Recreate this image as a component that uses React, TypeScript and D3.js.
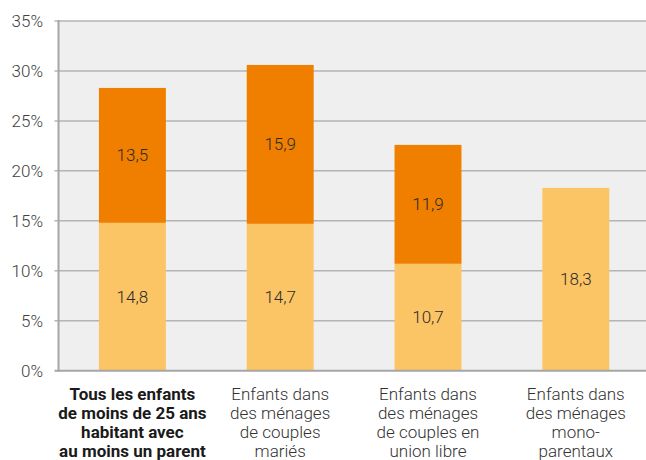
import React, { useEffect, useRef } from "react";
import * as d3 from "d3";

const categories = [
  ["Tous les enfants", "de moins de 25 ans", "habitant avec", "au moins un parent"],
  ["Enfants dans", "des ménages", "de couples", "mariés"],
  ["Enfants dans", "des ménages", "de couples en", "union libre"],
  ["Enfants dans", "des ménages", "mono-", "parentaux"],
];
const lowerValues = [14.8, 14.7, 10.7, 18.3];
const upperValues = [13.5, 15.9, 11.9, 0];
const yTicks = [0, 5, 10, 15, 20, 25, 30, 35];

const W = 646;
const H = 460;
const LIGHT = "#fbc565";
const ORANGE = "#f07f00";

const App = () => {
  const svgRef = useRef<SVGSVGElement>(null);

  useEffect(() => {
    document.body.style.margin = "0";
    const svg = d3.select(svgRef.current);
    svg.selectAll("*").remove();

    const left = 58.5;
    const top = 21;
    const bottom = 370.7;

    const x = d3
      .scaleBand()
      .domain(categories.map((_, i) => String(i)))
      .range([left, left + 591.2])
      .paddingInner(0.547)
      .paddingOuter(0.2735);
    const y = d3.scaleLinear().domain([0, 35]).range([bottom, top]);

    // plot background
    svg
      .append("rect")
      .attr("x", left)
      .attr("y", top)
      .attr("width", W - left)
      .attr("height", bottom - top)
      .attr("fill", "#efefef");

    // gridlines
    svg
      .append("g")
      .selectAll("line")
      .data(yTicks.filter((t) => t > 0))
      .join("line")
      .attr("x1", left - 4)
      .attr("x2", W)
      .attr("y1", (d) => y(d))
      .attr("y2", (d) => y(d))
      .attr("stroke", "#b4b4b4")
      .attr("stroke-width", 1.5);

    // y labels
    svg
      .append("g")
      .selectAll("text")
      .data(yTicks)
      .join("text")
      .attr("x", 43)
      .attr("y", (d) => y(d))
      .attr("dy", "0.35em")
      .attr("text-anchor", "end")
      .attr("font-family", "Roboto")
      .attr("font-weight", 300)
      .attr("font-size", 17)
      .attr("fill", "#404040")
      .text((d) => `${d}%`);

    const bars = svg.append("g");
    const fmt = (v: number) => v.toFixed(1).replace(".", ",");

    categories.forEach((_, i) => {
      const bx = x(String(i))!;
      const bw = x.bandwidth();
      const lo = lowerValues[i];
      const up = upperValues[i];
      bars
        .append("rect")
        .attr("x", bx)
        .attr("width", bw)
        .attr("y", y(lo))
        .attr("height", y(0) - y(lo))
        .attr("fill", LIGHT);
      bars
        .append("text")
        .attr("x", bx + bw / 2)
        .attr("y", y(lo / 2))
        .attr("dy", "0.35em")
        .attr("text-anchor", "middle")
        .attr("font-family", "Roboto")
        .attr("font-weight", 300)
        .attr("font-size", 17)
        .attr("fill", "#2b2b2b")
        .text(fmt(lo));
      if (up > 0) {
        bars
          .append("rect")
          .attr("x", bx)
          .attr("width", bw)
          .attr("y", y(lo + up))
          .attr("height", y(lo) - y(lo + up))
          .attr("fill", ORANGE);
        bars
          .append("text")
          .attr("x", bx + bw / 2)
          .attr("y", y(lo + up / 2))
          .attr("dy", "0.35em")
          .attr("text-anchor", "middle")
          .attr("font-family", "Roboto")
          .attr("font-weight", 300)
          .attr("font-size", 17)
          .attr("fill", "#2b2b2b")
          .text(fmt(up));
      }
    });

    // axes lines
    svg
      .append("line")
      .attr("x1", left - 4)
      .attr("x2", W)
      .attr("y1", bottom)
      .attr("y2", bottom)
      .attr("stroke", "#a6a6a6")
      .attr("stroke-width", 2);
    svg
      .append("line")
      .attr("x1", left)
      .attr("x2", left)
      .attr("y1", top - 1)
      .attr("y2", bottom + 1)
      .attr("stroke", "#a6a6a6")
      .attr("stroke-width", 2);

    // category labels
    categories.forEach((lines, i) => {
      const cx = x(String(i))! + x.bandwidth() / 2;
      const t = svg
        .append("text")
        .attr("text-anchor", "middle")
        .attr("font-family", "Roboto")
        .attr("font-weight", i === 0 ? 700 : 300)
        .attr("font-size", 17)
        .attr("fill", i === 0 ? "#1a1a1a" : "#333333");
      lines.forEach((ln, j) => {
        t.append("tspan")
          .attr("x", cx)
          .attr("y", 399.5 + j * 19)
          .text(ln);
      });
    });
  }, []);

  return <svg ref={svgRef} width={W} height={H} style={{ display: "block", background: "#fff" }} />;
};

export default App;
